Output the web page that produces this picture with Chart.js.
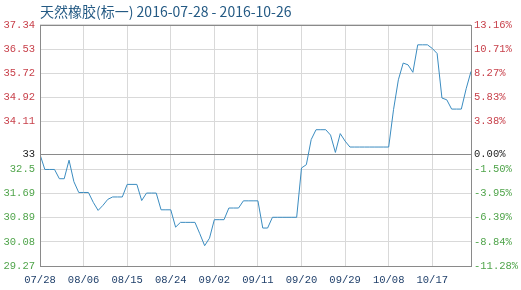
<!DOCTYPE html>
<html>
<head>
<meta charset="utf-8">
<script src="https://cdn.jsdelivr.net/npm/chart.js@4/dist/chart.umd.min.js"></script>
<style>
  html, body { margin: 0; padding: 0; background: #fff; }
  #wrap { width: 521px; height: 290px; }
</style>
</head>
<body>
<div id="wrap"><canvas id="rubber"></canvas></div>
<script>
// price per calendar day, starting 07/28 (index = days after 07/28)
let prices = [
    33.0, 32.5, 32.5, 32.5, 32.19, 32.19, 32.81, 32.09, 31.73, 31.73,
    31.73, 31.4, 31.13, 31.3, 31.5, 31.58, 31.58, 31.58, 32.0, 32.0,
    32.0, 31.46, 31.71, 31.71, 31.71, 31.15, 31.15, 31.15, 30.57, 30.73,
    30.73, 30.73, 30.73, 30.35, 29.95, 30.2, 30.82, 30.82, 30.82, 31.21,
    31.21, 31.21, 31.45, 31.45, 31.45, 31.45, 30.54, 30.54, 30.9, 30.9,
    30.9, 30.9, 30.9, 30.9, 32.55, 32.66, 33.5, 33.83, 33.83, 33.83,
    33.65, 33.07, 33.7, 33.45, 33.25, 33.25, 33.25, 33.25, 33.25, 33.25,
    33.25, 33.25, 33.25, 34.5, 35.5, 36.06, 36.0, 35.75, 36.67, 36.67,
    36.67, 36.55, 36.38, 34.89, 34.83, 34.52, 34.52, 34.52, 35.2, 35.78
];
let base_price = 33;

let x_tick_days = [0, 9, 18, 27, 36, 45, 54, 63, 72, 81];
let x_tick_labels = ['07/28', '08/06', '08/15', '08/24', '09/02', '09/11', '09/20', '09/29', '10/08', '10/17'];

let y_tick_values = [37.34, 36.53, 35.72, 34.92, 34.11, 33, 32.5, 31.69, 30.89, 30.08, 29.27];
let y_tick_labels = ['37.34', '36.53', '35.72', '34.92', '34.11', '33', '32.5', '31.69', '30.89', '30.08', '29.27'];
let pct_tick_labels = ['13.16%', '10.71%', '8.27%', '5.83%', '3.38%', '0.00%', '-1.50%', '-3.95%', '-6.39%', '-8.84%', '-11.28%'];

const RED = '#c8414b';
const GREEN = '#4fa44a';

function tickColor(value) {
    if (value > base_price) return RED;
    if (value < base_price) return GREEN;
    return '#222';
}

function labelFor(list, value) {
    let i = y_tick_values.indexOf(value);
    return i >= 0 ? list[i] : '';
}

let frame_plugin = {
    id: 'frame',
    afterDatasetsDraw(chart) {
        let a = chart.chartArea;
        let ctx = chart.ctx;
        ctx.save();
        ctx.strokeStyle = '#8a8a8a';
        ctx.lineWidth = 1;
        ctx.strokeRect(Math.round(a.left) + 0.5, Math.round(a.top) + 0.5,
            Math.round(a.right - a.left), Math.round(a.bottom - a.top));
        ctx.restore();
    }
};

let mono = { family: '"Liberation Mono", "DejaVu Sans Mono", monospace', size: 10.5 };

let rubber_param = {
    type: 'line',
    data: {
        datasets: [{
            label: '天然橡胶(标一)',
            data: prices.map((v, i) => ({ x: i, y: v })),
            fill: false,
            borderColor: '#3b8cc0',
            borderWidth: 1,
            tension: 0,
            pointRadius: 0,
        }]
    },
    options: {
        responsive: true,
        maintainAspectRatio: false,
        animation: false,
        layout: { padding: { left: 0, right: 0, top: 0, bottom: 0 } },
        plugins: {
            legend: { display: false },
            tooltip: { enabled: false },
            title: {
                display: true,
                text: '天然橡胶(标一) 2016-07-28 - 2016-10-26',
                align: 'start',
                fullSize: false,
                color: '#245a84',
                font: { family: '"Noto Sans CJK SC", "Noto Sans", sans-serif', size: 14, weight: 'normal' },
                padding: { top: 3, bottom: 5 }
            }
        },
        scales: {
            x: {
                type: 'linear',
                min: 0,
                max: 89,
                afterBuildTicks: (scale) => { scale.ticks = x_tick_days.map(v => ({ value: v })); },
                afterFit: (scale) => { scale.height = 24; },
                ticks: {
                    autoSkip: false,
                    maxRotation: 0,
                    padding: 8,
                    color: '#1f3f6a',
                    font: mono,
                    callback: (value) => x_tick_labels[x_tick_days.indexOf(value)] || ''
                },
                grid: { color: '#d9d9d9', drawTicks: false },
                border: { display: false }
            },
            y: {
                position: 'left',
                min: 29.27,
                max: 37.34,
                afterBuildTicks: (scale) => { scale.ticks = y_tick_values.map(v => ({ value: v })); },
                afterFit: (scale) => { scale.width = 40; },
                ticks: {
                    autoSkip: false,
                    padding: 5,
                    font: mono,
                    color: (c) => tickColor(c.tick.value),
                    callback: (value) => labelFor(y_tick_labels, value)
                },
                grid: {
                    drawTicks: false,
                    color: (c) => c.tick && c.tick.value === base_price ? '#8a8a8a' : '#d9d9d9'
                },
                border: { display: false }
            },
            y2: {
                position: 'right',
                min: 29.27,
                max: 37.34,
                afterBuildTicks: (scale) => { scale.ticks = y_tick_values.map(v => ({ value: v })); },
                afterFit: (scale) => { scale.width = 50; },
                ticks: {
                    autoSkip: false,
                    padding: 3,
                    font: mono,
                    color: (c) => tickColor(c.tick.value),
                    callback: (value) => labelFor(pct_tick_labels, value)
                },
                grid: { display: false, drawTicks: false },
                border: { display: false }
            }
        }
    },
    plugins: [frame_plugin]
};

let rubber_chart = new Chart(document.getElementById('rubber'), rubber_param);
</script>
</body>
</html>
